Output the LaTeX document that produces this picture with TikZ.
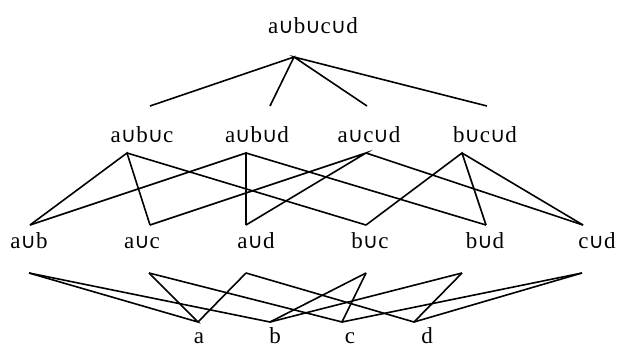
\documentclass[tikz,border=0pt]{standalone}
\usepackage{fontspec}
\setmainfont{Liberation Serif}
\newfontfamily\cupfont{DejaVu Sans}
\newcommand\un{{\cupfont\fontsize{21}{21}\selectfont ∪}}
\begin{document}
\begin{tikzpicture}[x=1pt,y=-1pt,
  lbl/.style={anchor=base,inner sep=0pt,font=\fontsize{23}{27}\selectfont},
  edge/.style={line width=1.6pt,line join=miter}]
\useasboundingbox (0,0) rectangle (619,346);
% labels
\node[lbl] (abcd) at (313,33) {a\un b\un c\un d};
\node[lbl] (abc) at (142,142) {a\un b\un c};
\node[lbl] (abd) at (257,142) {a\un b\un d};
\node[lbl] (acd) at (369,142) {a\un c\un d};
\node[lbl] (bcd) at (485,142) {b\un c\un d};
\node[lbl] (ab) at (29,248) {a\un b};
\node[lbl] (ac) at (142,248) {a\un c};
\node[lbl] (ad) at (256,248) {a\un d};
\node[lbl] (bc) at (370,248) {b\un c};
\node[lbl] (bd) at (485,248) {b\un d};
\node[lbl] (cd) at (597,248) {c\un d};
\node[lbl] (a) at (199,343) {a};
\node[lbl] (b) at (275,343) {b};
\node[lbl] (c) at (350,343) {c};
\node[lbl] (d) at (427,343) {d};
% connector points
\coordinate (abcdS) at (294,57);
\coordinate (abcN) at (150,106);
\coordinate (abdN) at (270,106);
\coordinate (acdN) at (367,106);
\coordinate (bcdN) at (487,106);
\coordinate (abcS) at (127,153);
\coordinate (abdS) at (246,153);
\coordinate (acdS) at (366,153);
\coordinate (bcdS) at (462,153);
\coordinate (abN) at (30,225);
\coordinate (acN) at (150,225);
\coordinate (adN) at (246,225);
\coordinate (bcN) at (366,225);
\coordinate (bdN) at (486,225);
\coordinate (cdN) at (583,225);
\coordinate (abS) at (29,273);
\coordinate (acS) at (149,273);
\coordinate (adS) at (246,273);
\coordinate (bcS) at (366,273);
\coordinate (bdS) at (462,273);
\coordinate (cdS) at (582,273);
\coordinate (aN) at (198,322);
\coordinate (bN) at (270,322);
\coordinate (cN) at (342,322);
\coordinate (dN) at (414,322);
% edges
\draw[edge] (abcN) -- (abcdS) -- (abdN);
\draw[edge] (acdN) -- (abcdS) -- (bcdN);
\draw[edge] (abN) -- (abcS) -- (acN);
\draw[edge] (abcS) -- (bcN);
\draw[edge] (abN) -- (abdS) -- (adN);
\draw[edge] (abdS) -- (bdN);
\draw[edge] (acN) -- (acdS) -- (adN);
\draw[edge] (acdS) -- (cdN);
\draw[edge] (bcN) -- (bcdS) -- (bdN);
\draw[edge] (bcdS) -- (cdN);
\draw[edge] (abS) -- (aN) -- (acS);
\draw[edge] (aN) -- (adS);
\draw[edge] (abS) -- (bN) -- (bcS);
\draw[edge] (bN) -- (bdS);
\draw[edge] (acS) -- (cN) -- (bcS);
\draw[edge] (cN) -- (cdS);
\draw[edge] (adS) -- (dN) -- (bdS);
\draw[edge] (dN) -- (cdS);
\end{tikzpicture}
\end{document}
